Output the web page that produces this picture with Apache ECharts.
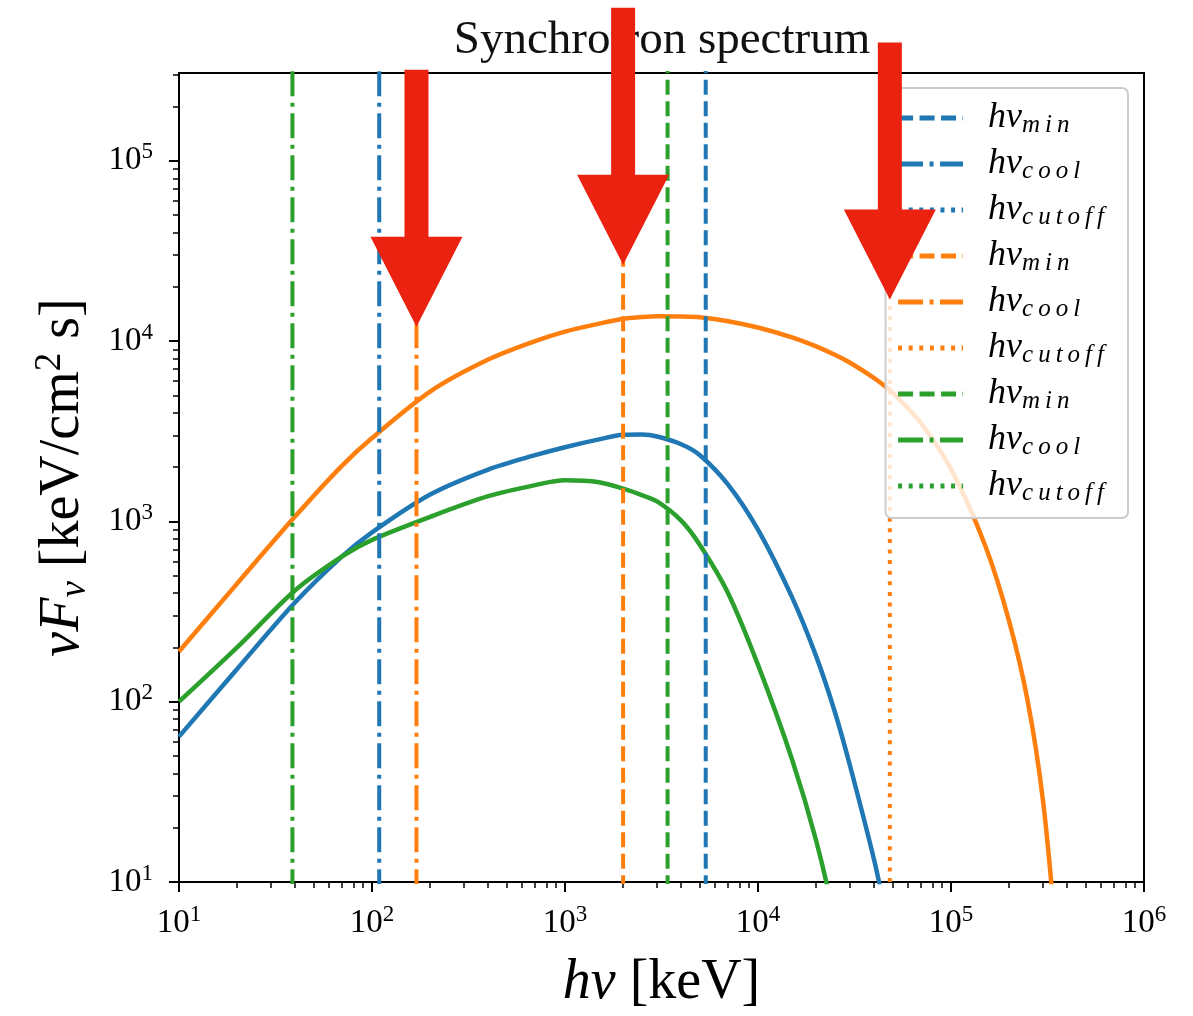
<!DOCTYPE html>
<html>
<head>
<meta charset="utf-8">
<script src="https://cdn.jsdelivr.net/npm/echarts@6/dist/echarts.min.js"></script>
<style>
  html, body { margin: 0; padding: 0; background: #fff; }
  #chart { width: 1193px; height: 1016px; }
</style>
</head>
<body>
<div id="chart"></div>
<script>
// Photon energies (keV) at which the spectra are sampled
const energy = [10, 20, 40, 70, 100, 200, 400, 700, 1000, 1500, 2000, 2500, 3000, 4000, 5000, 7000,
  1e4, 1.5e4, 2e4, 2.5e4, 3e4, 4e4, 4.5e4, 5e4, 7e4, 1e5, 1.5e5, 2e5, 2.5e5, 3e5, 3.5e5];

// nuF_nu (keV/cm^2 s) for the three parameter sets
const fluxBlue = [64, 152, 356, 640, 870, 1410, 1940, 2330, 2580, 2850, 3020, 3030, 2960, 2680, 2330, 1600,
  900, 380, 179, 88, 44, 13.2, 7.3, null, null, null, null, null, null, null, null];
const fluxOrange = [190, 452, 1067, 2040, 2900, 5250, 7900, 10000, 11300, 12500, 13300, 13600, 13750, 13700, 13550, 12900,
  11900, 10490, 9350, 8400, 7585, 6236, 5675, 5172, 3500, 1950, 740, 280, 100, 28, 5];
const fluxGreen = [100, 200, 415, 640, 790, 1060, 1380, 1590, 1690, 1650, 1520, 1400, 1290, 1010, 740, 400,
  160, 48, 17, 6, 1.8, null, null, null, null, null, null, null, null, null, null];

// Characteristic break energies (keV): [min, cool, cutoff]
const breaksBlue = [5360, 109, 2.0e6];
const breaksOrange = [2000, 170, 48200];
const breaksGreen = [3400, 38.7, 1.5e6];

// Arrow tips (nuF_nu) above the orange cool, min and cutoff energies
const arrowTipFlux = [12000, 26500, 17000];

// Axis ranges and ticks
const xRange = [10, 1e6];
const yRange = [10, 3.07e5];
const xMajor = [10, 100, 1000, 1e4, 1e5, 1e6];
const yMajor = [10, 100, 1000, 1e4, 1e5];

function minorTicks(lo, hi) {
  const out = [];
  for (let d = lo; d < hi; d *= 10) {
    for (let k = 2; k <= 9; k++) out.push(d * k);
  }
  return out;
}
const xMinor = minorTicks(10, 1e6);
const yMinor = minorTicks(10, 1e6).filter(v => v < yRange[1]);

const COLORS = { blue: '#1f77b4', orange: '#ff7f0e', green: '#2ca02c' };
const LW_CURVE = 4.5;
const LW = 4;
const DASH = [15, 6.5];
const DASHDOT = [25, 6.5, 4, 6.5];
const DOT = [4, 6.6];
const SERIF = '"Liberation Serif", "DejaVu Serif", serif';

function pairs(xs, ys) {
  return xs.map((x, i) => [x, ys[i]]);
}

function curve(name, color, ys) {
  return {
    name: name, type: 'line', data: pairs(energy, ys),
    showSymbol: false, symbol: 'none', smooth: 0.3, connectNulls: false,
    lineStyle: { color: color, width: LW_CURVE }, itemStyle: { color: color },
    silent: true, z: 2
  };
}

function vline(name, color, x, dash) {
  return {
    name: name, type: 'line', data: [[x, 1], [x, 1e7]],
    showSymbol: false, symbol: 'none',
    lineStyle: { color: color, width: LW, type: dash, cap: 'butt' },
    itemStyle: { color: color },
    silent: true, z: 3
  };
}

const lineKinds = ['min', 'cool', 'cutoff'];
const dashes = [DASH, DASHDOT, DOT];
const sets = [['b', COLORS.blue, breaksBlue], ['o', COLORS.orange, breaksOrange], ['g', COLORS.green, breaksGreen]];

const breakSeries = [];
const legendNames = [];
sets.forEach(([tag, color, br]) => {
  lineKinds.forEach((kind, i) => {
    const nm = kind + '-' + tag;
    legendNames.push(nm);
    breakSeries.push(vline(nm, color, br[i], dashes[i]));
  });
});

const arrowData = [
  [breaksOrange[1], arrowTipFlux[0]],
  [breaksOrange[0], arrowTipFlux[1]],
  [breaksOrange[2], arrowTipFlux[2]]
];

const expRich = {
  b: { fontFamily: SERIF, fontSize: 33, lineHeight: 40, color: '#000', verticalAlign: 'middle' },
  sup: { fontFamily: SERIF, fontSize: 23, lineHeight: 18, color: '#000', verticalAlign: 'top' }
};
function expLabel(v) {
  return '{b|10}{sup|' + Math.round(Math.log10(v)) + '}';
}

const chart = echarts.init(document.getElementById('chart'), null, { renderer: 'canvas' });

const option = {
  animation: false,
  backgroundColor: '#fff',
  title: {
    text: 'Synchrotron spectrum',
    left: 657, top: 12, textAlign: 'center',
    textStyle: { fontFamily: SERIF, fontSize: 47, fontWeight: 'normal', color: '#111' }
  },
  grid: {
    left: 179, right: 49, top: 73, bottom: 133,
    show: true, borderColor: '#000', borderWidth: 2, backgroundColor: 'transparent'
  },
  legend: {
    data: legendNames.map(n => ({ name: n, itemStyle: { opacity: 0 } })),
    orient: 'vertical',
    right: 65, top: 88,
    padding: [12, 24, 12, 10],
    itemWidth: 65, itemHeight: 14, itemGap: 8,
    selectedMode: false,
    backgroundColor: 'rgba(255,255,255,0.8)',
    borderColor: '#cccccc', borderWidth: 2, borderRadius: 6,
    itemStyle: { opacity: 0 },
    lineStyle: { width: 5 },
    formatter: function (name) {
      const sub = name.split('-')[0].split('').join('\u2009');
      return '{g| }{h|hν}{s|' + sub + '}';
    },
    textStyle: {
      rich: {
        g: { width: 20, fontSize: 10, lineHeight: 40 },
        h: { fontFamily: SERIF, fontStyle: 'italic', fontSize: 36, lineHeight: 40, color: '#000', verticalAlign: 'middle' },
        s: { fontFamily: SERIF, fontStyle: 'italic', fontSize: 25, lineHeight: 18, color: '#000', verticalAlign: 'bottom' }
      }
    },
    z: 5
  },
  xAxis: [
    {
      type: 'log', logBase: 10, min: xRange[0], max: xRange[1],
      position: 'bottom',
      name: '{i|hν}{r| [keV]}', nameLocation: 'middle', nameGap: 73,
      nameTextStyle: {
        rich: {
          i: { fontFamily: SERIF, fontStyle: 'italic', fontSize: 56, color: '#000' },
          r: { fontFamily: SERIF, fontSize: 56, color: '#000' }
        }
      },
      axisLine: { show: false },
      splitLine: { show: false },
      axisTick: { show: true, length: 10, customValues: xMajor, lineStyle: { color: '#000', width: 2 } },
      axisLabel: { show: true, margin: 21, customValues: xMajor, formatter: expLabel, rich: expRich }
    },
    {
      type: 'log', logBase: 10, min: xRange[0], max: xRange[1],
      position: 'bottom',
      axisLine: { show: false },
      splitLine: { show: false },
      axisTick: { show: true, length: 6, customValues: xMinor, lineStyle: { color: '#000', width: 1.5 } },
      axisLabel: { show: false }
    }
  ],
  yAxis: [
    {
      type: 'log', logBase: 10, min: yRange[0], max: yRange[1],
      position: 'left',
      name: '{i|νF}{sb|ν}{r| [keV/cm}{sp|2}{r| s]}', nameLocation: 'middle', nameGap: 85,
      nameTextStyle: {
        rich: {
          i: { fontFamily: SERIF, fontStyle: 'italic', fontSize: 56, lineHeight: 62, color: '#000', verticalAlign: 'middle' },
          sb: { fontFamily: SERIF, fontStyle: 'italic', fontSize: 37, lineHeight: 24, color: '#000', verticalAlign: 'bottom' },
          r: { fontFamily: SERIF, fontSize: 56, lineHeight: 62, color: '#000', verticalAlign: 'middle' },
          sp: { fontFamily: SERIF, fontSize: 37, lineHeight: 26, color: '#000', verticalAlign: 'top' }
        }
      },
      axisLine: { show: false },
      splitLine: { show: false },
      axisTick: { show: true, length: 10, customValues: yMajor, lineStyle: { color: '#000', width: 2 } },
      axisLabel: { show: true, margin: 26, customValues: yMajor, formatter: expLabel, rich: expRich }
    },
    {
      type: 'log', logBase: 10, min: yRange[0], max: yRange[1],
      position: 'left',
      axisLine: { show: false },
      splitLine: { show: false },
      axisTick: { show: true, length: 6, customValues: yMinor, lineStyle: { color: '#000', width: 1.5 } },
      axisLabel: { show: false }
    }
  ],
  series: [
    curve('spec-b', COLORS.blue, fluxBlue),
    curve('spec-o', COLORS.orange, fluxOrange),
    curve('spec-g', COLORS.green, fluxGreen)
  ].concat(breakSeries).concat([
    {
      type: 'custom',
      name: 'arrows',
      data: arrowData,
      encode: { x: 0, y: 1 },
      clip: false,
      silent: true,
      z: 20,
      renderItem: function (params, api) {
        const tip = api.coord([api.value(0), api.value(1)]);
        const len = 257, headLen = 90, shaftHalf = 12, headHalf = 46;
        const x = tip[0], y = tip[1];
        return {
          type: 'polygon',
          shape: {
            points: [
              [x - shaftHalf, y - len], [x + shaftHalf, y - len],
              [x + shaftHalf, y - headLen], [x + headHalf, y - headLen],
              [x, y],
              [x - headHalf, y - headLen], [x - shaftHalf, y - headLen]
            ]
          },
          style: { fill: '#ec2210' }
        };
      }
    }
  ])
};

chart.setOption(option);
</script>
</body>
</html>
